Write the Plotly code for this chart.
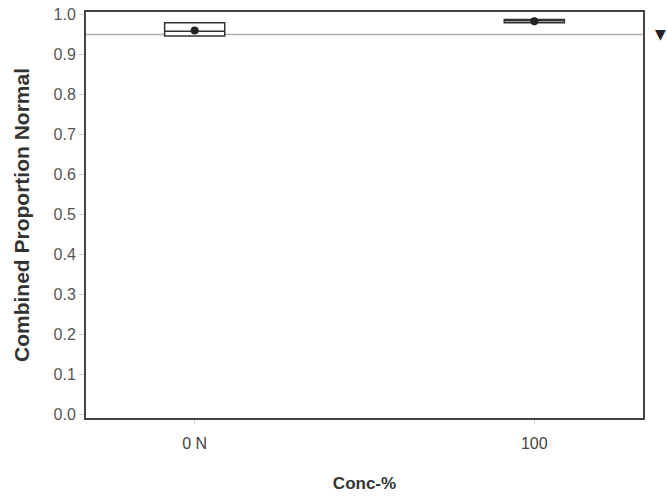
import plotly.graph_objects as go

categories = ["0 N", "100"]
q1_vals = [0.946, 0.979]
median_vals = [0.958, 0.984]
q3_vals = [0.979, 0.987]
mean_vals = [0.960, 0.983]
reference_value = 0.95
y_ticks = [0.0, 0.1, 0.2, 0.3, 0.4, 0.5, 0.6, 0.7, 0.8, 0.9, 1.0]

positions = list(range(len(categories)))

fig = go.Figure()

# reference line
fig.add_shape(type="line", xref="paper", yref="y", x0=0, x1=1,
              y0=reference_value, y1=reference_value,
              line=dict(color="#b0b0b0", width=1.5), layer="below")

for i, pos in enumerate(positions):
    fig.add_trace(go.Box(
        x=[pos], q1=[q1_vals[i]], median=[median_vals[i]], q3=[q3_vals[i]],
        lowerfence=[q1_vals[i]], upperfence=[q3_vals[i]],
        width=0.177, fillcolor="white",
        line=dict(color="#333333", width=1.5),
        whiskerwidth=0, showlegend=False, hoverinfo="skip",
    ))

fig.add_trace(go.Scatter(
    x=positions, y=mean_vals, mode="markers",
    marker=dict(color="#222222", size=8, symbol="circle"),
    showlegend=False, hoverinfo="skip",
))

# reference marker outside the plot on the right
fig.add_annotation(xref="paper", yref="y", x=1.031, y=reference_value,
                   text="▼", showarrow=False, xanchor="center", yanchor="middle",
                   font=dict(family="DejaVu Sans", size=14, color="#222222"))

fig.update_layout(
    width=667, height=496,
    margin=dict(l=86, r=24, t=12, b=78),
    paper_bgcolor="white", plot_bgcolor="white",
    font=dict(family="Liberation Sans, Arial, sans-serif", color="#555555", size=16),
)
fig.update_xaxes(
    range=[-0.32, 1.32], automargin=False,
    tickvals=positions, ticktext=categories,
    showline=True, mirror=True, linecolor="#444444", linewidth=2,
    showgrid=False, zeroline=False,
    ticks="outside", ticklen=4, tickcolor="#cccccc", ticklabelstandoff=6,
    tickfont=dict(size=16, color="#444444"),
    title=dict(text="<b>Conc-%</b>", font=dict(size=17, color="#333333"), standoff=26),
)
fig.update_yaxes(
    range=[-0.01, 1.006], automargin=False,
    tickvals=y_ticks, ticktext=[f"{v:.1f}" for v in y_ticks],
    showline=True, mirror=True, linecolor="#444444", linewidth=2,
    showgrid=False, zeroline=False,
    ticks="outside", ticklen=5, tickcolor="#cccccc",
    tickfont=dict(size=16, color="#555555"),
    title=dict(text="<b>Combined Proportion Normal</b>", font=dict(size=21, color="#333333"), standoff=18),
)

fig.write_html("out.html", config={"displayModeBar": False},
               post_script="document.body.style.margin='0';")
